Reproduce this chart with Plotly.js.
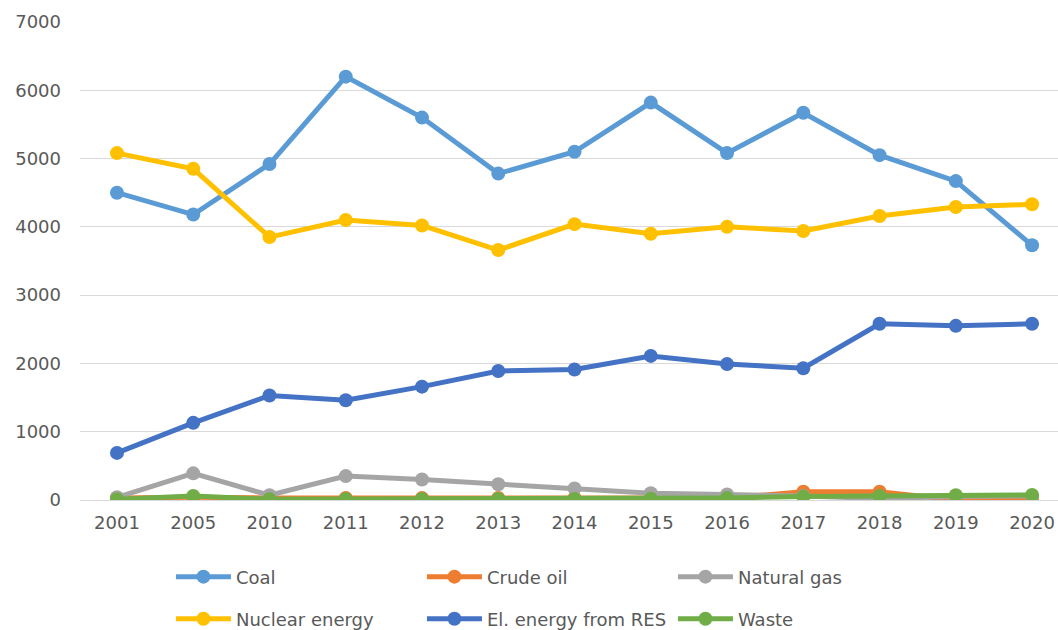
<!DOCTYPE html>
<html>
<head>
<meta charset="utf-8">
<script src="https://cdn.plot.ly/plotly-3.0.1.min.js"></script>
<style>html,body{margin:0;padding:0;background:#fff;}#chart{width:1058px;height:630px;}</style>
</head>
<body>
<div id="chart"></div>
<script>
var years = ["2001","2005","2010","2011","2012","2013","2014","2015","2016","2017","2018","2019","2020"];
var coal = [4500,4180,4920,6200,5600,4780,5100,5820,5080,5670,5050,4670,3730];
var crudeOil = [30,40,30,30,30,30,30,30,30,120,120,0,0];
var naturalGas = [40,390,70,350,300,230,170,100,80,60,20,50,60];
var nuclear = [5080,4850,3850,4100,4020,3660,4040,3900,4000,3940,4160,4290,4330];
var res = [690,1130,1530,1460,1660,1890,1910,2110,1990,1930,2580,2550,2580];
var waste = [10,60,10,15,15,15,15,20,30,50,60,70,75];

var names = ["Coal","Crude oil","Natural gas","Nuclear energy","El. energy from RES","Waste"];
var series = [coal, crudeOil, naturalGas, nuclear, res, waste];
var colors = ["#5B9BD5","#ED7D31","#A5A5A5","#FFC000","#4472C4","#70AD47"];
var legends = ["legend","legend","legend","legend2","legend2","legend2"];

var FONT = "'DejaVu Sans', sans-serif";

var traces = series.map(function(s, i){
  return {
    x: years, y: s, name: names[i], type: "scatter", mode: "lines+markers",
    line: {color: colors[i], width: 5},
    marker: {color: colors[i], size: 14},
    legend: legends[i]
  };
});

var legendCommon = {
  orientation: "h", xanchor: "left", yanchor: "middle",
  x: 0.093, entrywidth: 181, entrywidthmode: "pixels",
  font: {family: FONT, size: 18, color: "#595959"},
  bgcolor: "rgba(0,0,0,0)", itemwidth: 55
};

var layout = {
  width: 1058, height: 630,
  margin: {l: 80, r: 0, t: 22, b: 130, autoexpand: false},
  paper_bgcolor: "#fff", plot_bgcolor: "#fff",
  font: {family: FONT, size: 18, color: "#595959"},
  xaxis: {
    type: "category", range: [-0.485, 12.34],
    showgrid: false, zeroline: false, showline: false,
    ticks: "", ticklabelstandoff: 10,
    tickfont: {family: FONT, size: 18, color: "#595959"}
  },
  yaxis: {
    range: [0, 7000], dtick: 1000, tick0: 0,
    showgrid: true, gridcolor: "#d9d9d9", gridwidth: 1,
    zeroline: true, zerolinecolor: "#d9d9d9", zerolinewidth: 1,
    showline: false, ticks: "", ticklabelstandoff: 18,
    tickfont: {family: FONT, size: 18, color: "#595959"}
  },
  legend: Object.assign({}, legendCommon, {y: -0.161}),
  legend2: Object.assign({}, legendCommon, {y: -0.249}),
  showlegend: true
};

Plotly.newPlot("chart", traces, layout, {displayModeBar: false, staticPlot: true});
</script>
</body>
</html>
